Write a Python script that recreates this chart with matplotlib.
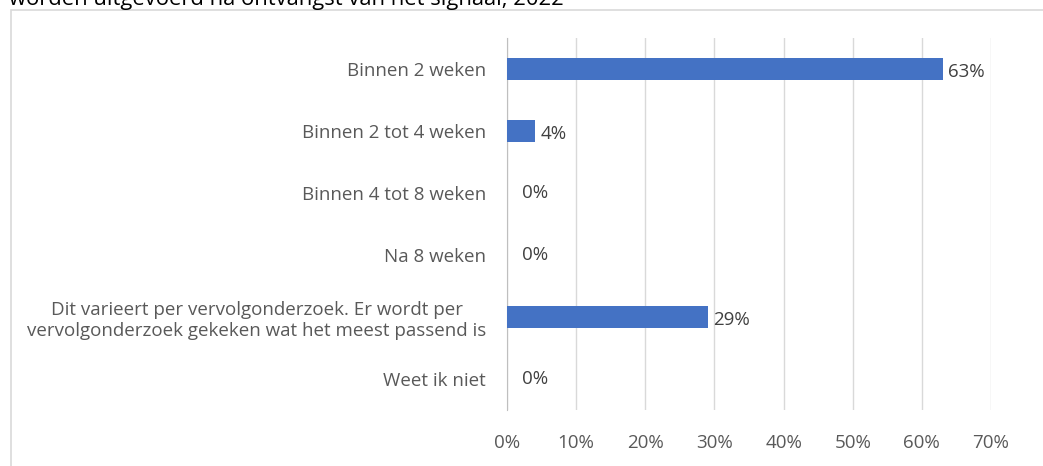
import numpy as np
import matplotlib.pyplot as plt
from matplotlib.patches import Rectangle

# Data
categories = ["Binnen 2 weken", "Binnen 2 tot 4 weken", "Binnen 4 tot 8 weken",
              "Na 8 weken",
              "Dit varieert per vervolgonderzoek. Er wordt per\nvervolgonderzoek gekeken wat het meest passend is",
              "Weet ik niet"]
values = [63, 4, 0, 0, 29, 0]
xticks = [0, 10, 20, 30, 40, 50, 60, 70]

plt.rcParams['font.family'] = ['Open Sans', 'DejaVu Sans']
grey = '#595959'

fig = plt.figure(figsize=(10.43, 4.66), dpi=100)

# outer chart frame (cut off on the right and bottom)
fig.patches.append(Rectangle((11 / 1043, -0.1), 1.2, (466 - 10) / 466 + 0.1,
                             transform=fig.transFigure, fill=False,
                             edgecolor='#d9d9d9', linewidth=1.2))

# cut-off title
fig.text(9 / 1043, 1 - 5 / 466, "worden uitgevoerd na ontvangst van het signaal, 2022",
         fontsize=15.8, color='black', va='baseline', ha='left')

ax = fig.add_axes([507 / 1043, 56 / 466, 484 / 1043, 372 / 466])

y = np.arange(len(categories))
ax.barh(y, values, height=0.36, color='#4472c4', zorder=3)

for yi, v in zip(y, values):
    off = 0.8 if v > 0 else 2.2
    ax.text(v + off, yi + (0.05 if v > 0 else 0), f"{v}%", va='center', ha='left',
            fontsize=13.5, color='#404040')

ax.set_xlim(0, 70)
ax.set_ylim(len(categories) - 0.5, -0.5)
ax.set_xticks(xticks)
ax.set_xticklabels([f"{t}%" for t in xticks])
ax.set_yticks(y)
ax.set_yticklabels(categories, multialignment='center')

ax.grid(axis='x', color='#d9d9d9', linewidth=1, zorder=0)
for s in ['top', 'right', 'bottom']:
    ax.spines[s].set_visible(False)
ax.spines['left'].set_color('#bfbfbf')
ax.tick_params(axis='x', length=0, pad=17, labelsize=13.5, labelcolor=grey)
ax.tick_params(axis='y', length=0, pad=15, labelsize=13.5, labelcolor=grey)

fig.savefig('out.png', dpi=100)
